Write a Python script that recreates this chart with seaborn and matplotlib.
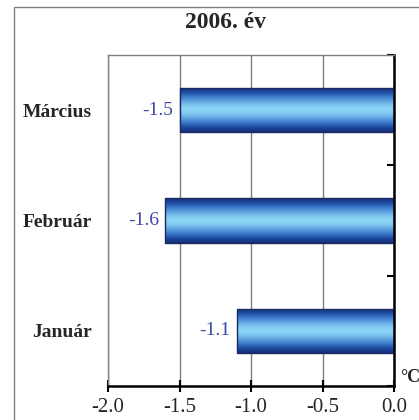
import numpy as np
import pandas as pd
import matplotlib
matplotlib.use("Agg")
import matplotlib.pyplot as plt
from matplotlib.colors import LinearSegmentedColormap
from matplotlib.patches import Rectangle
import seaborn as sns

months = ["Március", "Február", "Január"]
temps = [-1.5, -1.6, -1.1]
x_ticks = [-2.0, -1.5, -1.0, -0.5, 0.0]
title = "2006. év"
unit = "°C"

sns.set_style("white")
plt.rcParams['font.family'] = ['Liberation Serif', 'DejaVu Serif']

df = pd.DataFrame({"month": months, "temp": temps})

fig = plt.figure(figsize=(4.19, 4.20), dpi=100)
ax = fig.add_axes([108/419, 1 - 386/420, (394-108)/419, (386-55)/420])

# outer frame of the chart area
fig.patches.append(Rectangle((14/419, -0.1), 1.2, 1 - 7/420 + 0.1, transform=fig.transFigure,
                             fill=False, edgecolor='#808080', linewidth=1.0, zorder=0))

sns.barplot(data=df, x="temp", y="month", order=months, width=0.4, ax=ax,
            color='white', edgecolor='none')

cmap = LinearSegmentedColormap.from_list(
    "bar", ["#8bd6f6", "#7cc4ee", "#5a9ede", "#3a75c6", "#1c4a9e", "#17307a"])
grad = np.abs(np.linspace(-1, 1, 64)).reshape(-1, 1)
for p in ax.patches:
    x0, y0 = p.get_x(), p.get_y()
    w, h = p.get_width(), p.get_height()
    im = ax.imshow(grad, cmap=cmap, aspect='auto', interpolation='bilinear',
                   extent=(x0, x0 + w, y0 + h, y0), zorder=2)
    im.set_clip_path(p)
    ax.add_patch(Rectangle((x0, y0), w, h, fill=False, edgecolor='#1a2a60',
                           linewidth=1.0, zorder=3))

for i, v in enumerate(temps):
    ax.text(v - 0.045, i, f"{v}", ha='right', va='center', color='#3a48a8', fontsize=14)

ax.set_xlim(-2.0, 0.0)
ax.set_ylim(2.5, -0.5)
ax.set_xticks(x_ticks)
ax.set_xticklabels([f"{t:.1f}" for t in x_ticks], fontsize=15)
ax.set_yticks(range(len(months)))
ax.set_yticklabels(months, fontsize=14, fontweight='bold')
ax.set_yticks([-0.5, 0.5, 1.5, 2.5], minor=True)
ax.tick_params(axis='y', which='major', length=0, pad=11.5)
ax.tick_params(axis='y', which='minor', left=False, right=True, direction='in',
               length=5, width=1.5, color='black')
ax.tick_params(axis='x', which='major', bottom=True, direction='inout', length=8,
               width=1.5, color='black', pad=5)
ax.set_xlabel("")
ax.set_ylabel("")

ax.grid(axis='x', color='#808080', linewidth=1.0, zorder=0)
ax.set_axisbelow(True)
for s in ['top', 'left']:
    ax.spines[s].set_visible(True)
    ax.spines[s].set_color('#808080')
    ax.spines[s].set_linewidth(1.0)
for s in ['right', 'bottom']:
    ax.spines[s].set_visible(True)
    ax.spines[s].set_color('black')
    ax.spines[s].set_linewidth(1.8)

fig.text(225/419, 1 - 22/420, title, ha='center', va='center', fontsize=17, fontweight='bold')
fig.text(400/419, 1 - 377/420, unit, ha='left', va='center', fontsize=13, fontweight='bold')

fig.savefig("out.png", dpi=100)
